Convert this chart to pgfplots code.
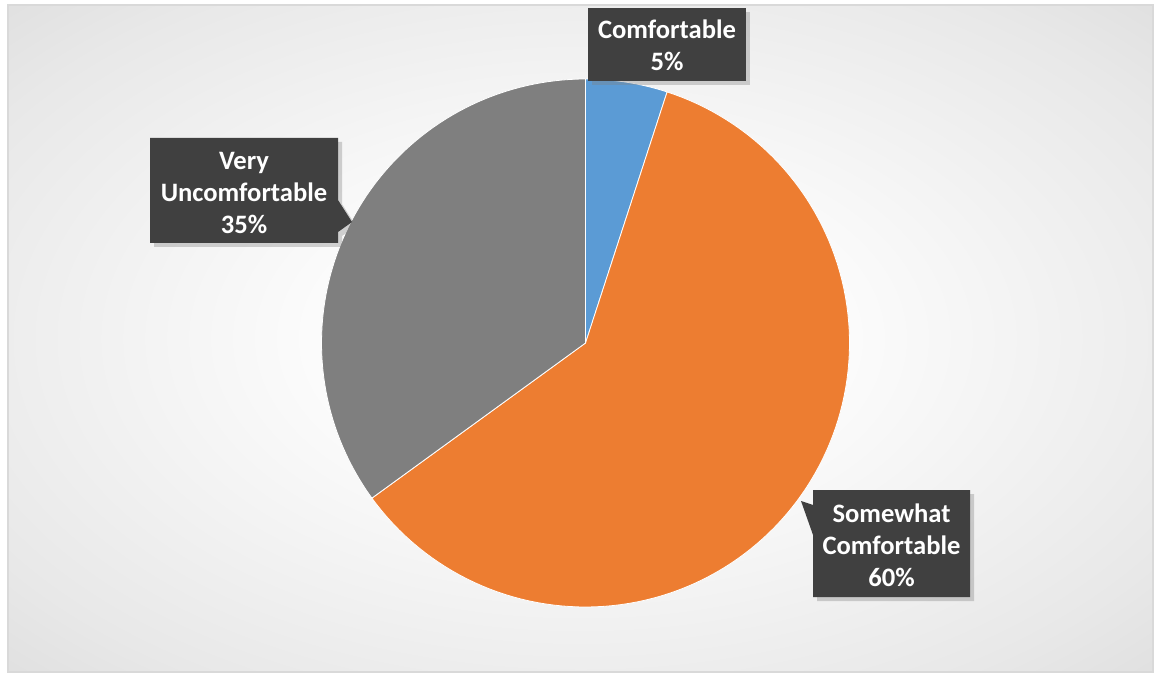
\documentclass[border=0pt]{standalone}
\usepackage{pgfplots}
\pgfplotsset{compat=1.18}
\usepackage{fontspec}
\setmainfont{Carlito}
\usetikzlibrary{shadows}
\definecolor{cBlue}{HTML}{5B9BD5}
\definecolor{cOrange}{HTML}{ED7D31}
\definecolor{cGray}{HTML}{7F7F7F}
\definecolor{cBox}{HTML}{404040}
\definecolor{cBorder}{HTML}{D9D9D9}
\pgfdeclareradialshading{bgshade}{\pgfpoint{0bp}{0bp}}{color(0bp)=(white); color(8bp)=(white); color(30bp)=(black!9); color(50bp)=(black!20); color(72bp)=(black!24)}
% shares in percent (clockwise from 12 o'clock)
\def\sA{5}  % Comfortable
\def\sB{60} % Somewhat Comfortable
\def\sC{35} % Very Uncomfortable
\begin{document}
\begin{tikzpicture}
\begin{scope}[x=0.5pt,y=0.5pt]
\path (0,0) rectangle (1159,675);
\shade[shading=bgshade] (8,3) rectangle (1153,670);
\draw[cBorder, line width=0.8pt] (8,3) rectangle (1153,670);
\end{scope}
\begin{axis}[
  scale only axis, width=579.5pt, height=337.5pt,
  xmin=0, xmax=1159, ymin=0, ymax=675,
  hide axis, clip=false, anchor=south west, at={(0,0)},
]
\addplot[draw=white, line width=0.4pt, fill=cBlue, domain={90-3.6*\sA}:90, samples=20]
  ({585.5+264*cos(x)},{332+264*sin(x)}) -- (axis cs:585.5,332) -- cycle;
\addplot[draw=white, line width=0.4pt, fill=cOrange, domain={90-3.6*(\sA+\sB)}:{90-3.6*\sA}, samples=120]
  ({585.5+264*cos(x)},{332+264*sin(x)}) -- (axis cs:585.5,332) -- cycle;
\addplot[draw=white, line width=0.4pt, fill=cGray, domain={90-3.6*(\sA+\sB+\sC)}:{90-3.6*(\sA+\sB)}, samples=80]
  ({585.5+264*cos(x)},{332+264*sin(x)}) -- (axis cs:585.5,332) -- cycle;
% callouts
\fill[cBox, drop shadow={opacity=0.35, shadow xshift=2pt, shadow yshift=-2pt}]
  (axis cs:588,594) -- (axis cs:746,594) -- (axis cs:746,667) -- (axis cs:588,667) -- cycle;
\fill[cBox, drop shadow={opacity=0.35, shadow xshift=2pt, shadow yshift=-2pt}]
  (axis cs:150,537) -- (axis cs:338,537) -- (axis cs:338,475) -- (axis cs:352,453)
  -- (axis cs:338,443) -- (axis cs:338,432) -- (axis cs:150,432) -- cycle;
\fill[cBox, drop shadow={opacity=0.35, shadow xshift=2pt, shadow yshift=-2pt}]
  (axis cs:813,185) -- (axis cs:970,185) -- (axis cs:970,78) -- (axis cs:813,78)
  -- (axis cs:813,140) -- (axis cs:801,174) -- (axis cs:813,170) -- cycle;
\node[text=white, font=\fontsize{13.3}{16}\selectfont\bfseries, align=center]
  at (axis cs:667,629.5) {Comfortable\\5\%};
\node[text=white, font=\fontsize{13.3}{16}\selectfont\bfseries, align=center]
  at (axis cs:244,482.5) {Very\\Uncomfortable\\35\%};
\node[text=white, font=\fontsize{13.3}{16}\selectfont\bfseries, align=center]
  at (axis cs:891.5,129.5) {Somewhat\\Comfortable\\60\%};
\end{axis}
\end{tikzpicture}
\end{document}
